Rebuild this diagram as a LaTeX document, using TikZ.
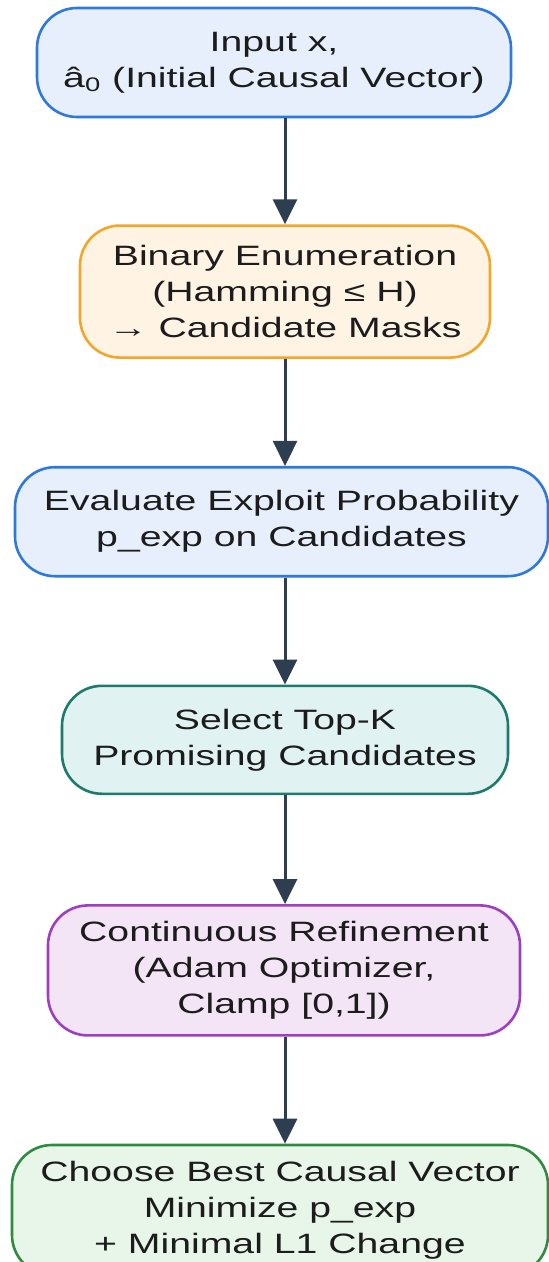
\documentclass[tikz,border=0pt]{standalone}
\usepackage{fontspec}
\setmainfont{Liberation Sans}[FakeStretch=1.4]
\usetikzlibrary{arrows.meta,positioning}

\definecolor{blueline}{HTML}{2F78DC}
\definecolor{bluefill}{HTML}{E6EFFB}
\definecolor{orangeline}{HTML}{F2A62A}
\definecolor{orangefill}{HTML}{FFF3E3}
\definecolor{tealline}{HTML}{1D7A6C}
\definecolor{tealfill}{HTML}{E0F2F1}
\definecolor{purpleline}{HTML}{9C3FC0}
\definecolor{purplefill}{HTML}{F3E5F5}
\definecolor{greenline}{HTML}{2E8B3F}
\definecolor{greenfill}{HTML}{E8F5E9}
\definecolor{arrowgray}{HTML}{2D3E50}
\definecolor{textgray}{HTML}{1C1C1C}

\begin{document}
\begin{tikzpicture}[
  stepbox/.style={draw, line width=1.3pt, rounded corners=20pt, align=center, text=textgray, font=\fontsize{14pt}{18pt}\selectfont, inner sep=4pt},
  bluebox/.style={stepbox, draw=blueline, fill=bluefill},
  orangebox/.style={stepbox, draw=orangeline, fill=orangefill},
  tealbox/.style={stepbox, draw=tealline, fill=tealfill},
  purplebox/.style={stepbox, draw=purpleline, fill=purplefill},
  greenbox/.style={stepbox, draw=greenline, fill=greenfill},
  arrow/.style={-{Triangle[length=12.5pt, width=12pt]}, line width=1.5pt, color=arrowgray},
  node distance=53.5pt
]
  \useasboundingbox (0,0) rectangle (274pt,-631pt);
  \coordinate (axis) at (142.5pt,0);

  \node[bluebox, minimum width=237pt, minimum height=54.5pt] (input) at (137pt,-31.25pt) {Input x,\\â\textsubscript{0} (Initial Causal Vector)};
  \node[orangebox, minimum width=205pt, minimum height=66pt, below=53pt of input, xshift=5.5pt] (enum) {Binary Enumeration\\(Hamming ≤ H)\\→ Candidate Masks};
  \node[bluebox, minimum width=266.5pt, minimum height=54.5pt, below=of enum, xshift=-1.75pt] (eval) {Evaluate Exploit Probability\\p\_exp on Candidates};
  \node[tealbox, minimum width=223pt, minimum height=54pt, below=of eval, xshift=1.75pt] (select) {Select Top-K\\Promising Candidates};
  \node[purplebox, minimum width=236pt, minimum height=65pt, below=54.5pt of select, xshift=-0.5pt] (refine) {Continuous Refinement\\(Adam Optimizer,\\Clamp [0,1])};
  \node[greenbox, minimum width=268pt, minimum height=65pt, below=of refine, xshift=-2pt] (choose) {Choose Best Causal Vector\\Minimize p\_exp\\+ Minimal L1 Change};

  \draw[arrow] (input.south -| axis) -- (enum.north -| axis);
  \draw[arrow] (enum.south -| axis) -- (eval.north -| axis);
  \draw[arrow] (eval.south -| axis) -- (select.north -| axis);
  \draw[arrow] (select.south -| axis) -- (refine.north -| axis);
  \draw[arrow] (refine.south -| axis) -- (choose.north -| axis);
\end{tikzpicture}
\end{document}
